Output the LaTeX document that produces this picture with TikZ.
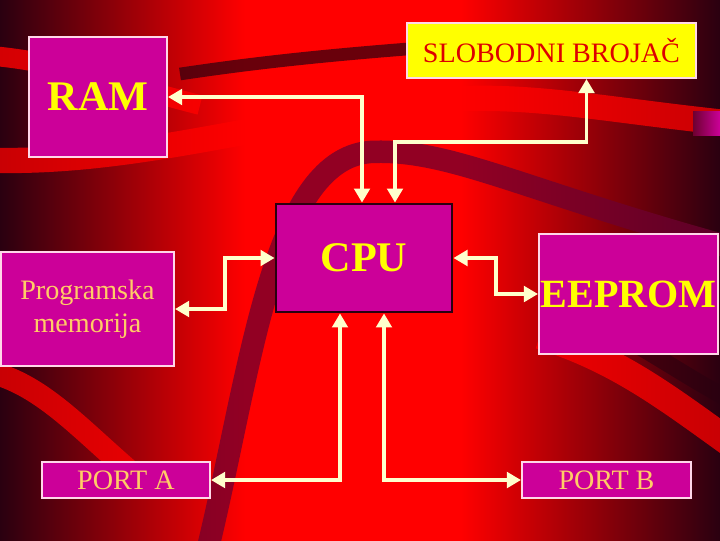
\documentclass[tikz,border=0pt]{standalone}
\usepackage{fontspec}
\setmainfont{Liberation Serif}
\usetikzlibrary{arrows.meta,calc}
\definecolor{boxfill}{HTML}{CC0099}
\definecolor{boxline}{HTML}{FFD8E8}
\definecolor{cream}{HTML}{FFFFCC}
\definecolor{txtyellow}{HTML}{FFFF00}
\definecolor{txtlight}{HTML}{FFCC66}
\definecolor{txtred}{HTML}{DD0000}
\definecolor{bgdark}{HTML}{2A0010}
\definecolor{bgred}{HTML}{FF0000}
\definecolor{band}{HTML}{6E0030}
\pgfdeclarehorizontalshading{bgshade}{100bp}{color(0bp)=(bgdark); color(25bp)=(bgdark); color(42bp)=(bgred); color(57bp)=(bgred); color(75bp)=(bgdark); color(100bp)=(bgdark)}

\begin{document}
\begin{tikzpicture}[x=0.025cm,y=-0.025cm,
  box/.style = {draw=boxline, fill=boxfill, line width=1.4pt, inner sep=0pt, align=center},
  big/.style = {font=\fontsize{30}{32}\selectfont\bfseries, text=txtyellow},
  small/.style = {font=\fontsize{20}{23.5}\selectfont, text=txtlight},
  link/.style = {draw=cream, line width=2.8pt, {Triangle[length=10pt,width=11pt]}-{Triangle[length=10pt,width=11pt]}}]
        \useasboundingbox (0,0) rectangle (720,540);
        % background
        \begin{scope}
        \clip (0,0) rectangle (720,540);
        \shade[shading=bgshade] (0,0) rectangle (720,540);
        \draw[bgred, line width=14pt, opacity=.8] (-20,55) .. controls (60,60) and (120,85) .. (200,105);
        \draw[bgred, line width=18pt, opacity=.75] (-20,160) .. controls (120,165) and (230,130) .. (420,102) .. controls (520,90) and (600,110) .. (740,124);
        \draw[bgdark, line width=9pt, opacity=.7] (180,74) .. controls (260,62) and (330,55) .. (420,48);
        \draw[band, line width=16pt, opacity=.75] (205,560) .. controls (250,380) and (270,160) .. (370,152) .. controls (450,148) and (520,190) .. (740,250);
        \draw[bgred, line width=16pt, opacity=.75] (-20,370) .. controls (40,380) and (80,430) .. (140,480);
        \draw[bgred, line width=20pt, opacity=.75] (540,335) .. controls (620,360) and (670,400) .. (740,450);
        \draw[bgdark, line width=12pt, opacity=.6] (600,325) .. controls (650,350) and (690,380) .. (740,405);
        \shade[left color=band, right color=boxfill] (693,111) rectangle (720,135);
        \end{scope}
        % blocks
        \node[box, minimum width=3.45cm, minimum height=3cm, big] (ram) at (98,97) {RAM};
        \node[box, fill=txtyellow, minimum width=7.225cm, minimum height=1.375cm, font=\fontsize{20}{24}\selectfont, text=txtred] (brojac) at (551.5,50.5) {SLOBODNI BROJAČ};
        \node[box, draw=bgdark, line width=2pt, minimum width=4.4cm, minimum height=2.7cm, big] (cpu) at (364,258) {CPU};
        \node[box, minimum width=4.325cm, minimum height=2.85cm, small] (prog) at (87.5,309) {Programska\\memorija};
        \node[box, minimum width=4.475cm, minimum height=3cm, big, font=\fontsize{28.5}{30}\selectfont\bfseries] (eeprom) at (628.5,294) {EEPROM};
        \node[box, minimum width=4.2cm, minimum height=0.9cm, small] (porta) at (126,480) {PORT A};
        \node[box, minimum width=4.225cm, minimum height=0.9cm, small] (portb) at (606.5,480) {PORT B};
        % connections
        \coordinate (bend) at (395,142);
        \draw[link] (ram.east) -| ($(cpu.north)+(-2,0)$);
        \draw[link] ($(brojac.south)+(35,0)$) |- (bend) -- (bend |- cpu.north);
        \draw[link] (prog.east) -- ++(50,0) |- (cpu.west);
        \draw[link] (cpu.east) -- ++(43,0) |- (eeprom.west);
        \draw[link] (porta.east) -| ($(cpu.south)+(-24,0)$);
        \draw[link] (portb.west) -| ($(cpu.south)+(20,0)$);
\end{tikzpicture}
\end{document}
